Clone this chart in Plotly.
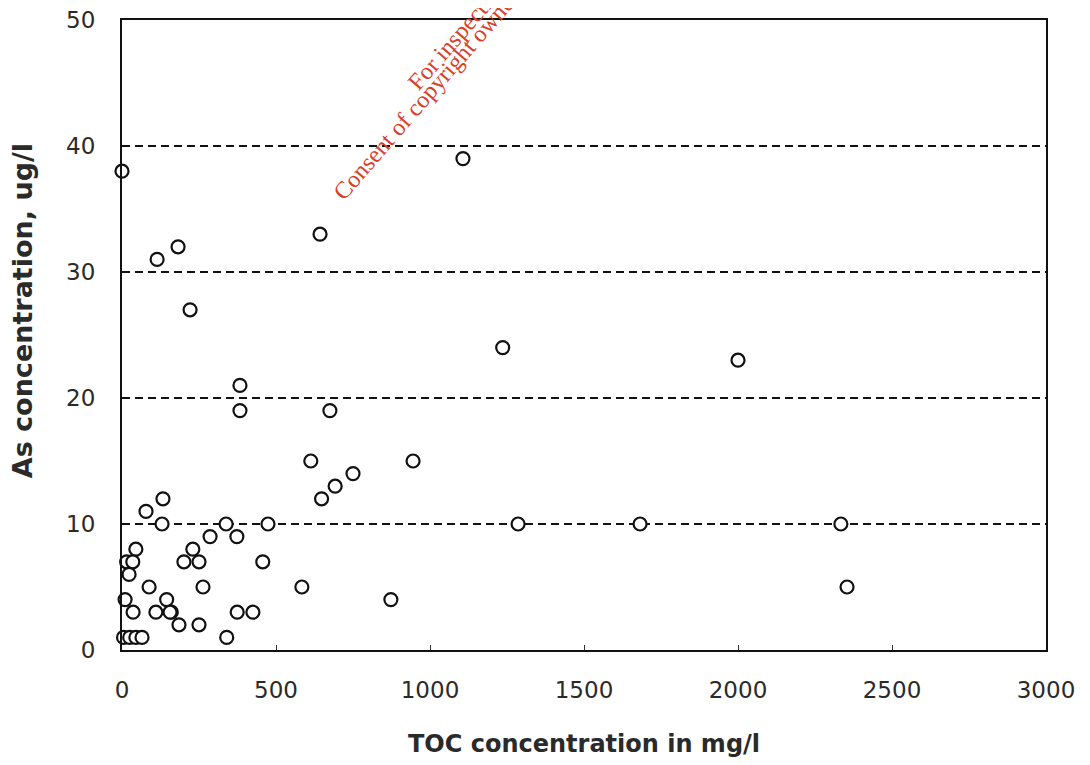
import plotly.graph_objects as go

# TOC concentration (mg/l) and As concentration (ug/l)
toc_mg_l = [0, 1107, 643, 182, 114, 221, 1236, 2000, 383, 383,
            675, 613, 945, 750, 692, 648, 133, 78, 130, 338,
            474, 1286, 1682, 2334, 2354, 286, 373, 230, 45, 201,
            250, 457, 15, 35, 23, 88, 263, 584, 873, 10,
            145, 160, 36, 110, 156, 374, 425, 185, 250, 340,
            5, 25, 45, 65]
as_ug_l = [38, 39, 33, 32, 31, 27, 24, 23, 21, 19,
           19, 15, 15, 14, 13, 12, 12, 11, 10, 10,
           10, 10, 10, 10, 5, 9, 9, 8, 8, 7,
           7, 7, 7, 7, 6, 5, 5, 5, 4, 4,
           4, 3, 3, 3, 3, 3, 3, 2, 2, 1,
           1, 1, 1, 1]

x_ticks = [0, 500, 1000, 1500, 2000, 2500, 3000]
y_ticks = [0, 10, 20, 30, 40, 50]
x_title = "TOC concentration in mg/l"
y_title = "As concentration, ug/l"
watermark_lines = ["For inspection purposes only.",
                   "Consent of copyright owner required for any other use."]

fig = go.Figure()
fig.add_trace(go.Scatter(
    x=toc_mg_l, y=as_ug_l, mode="markers",
    marker=dict(symbol="circle", size=13, color="white",
                line=dict(color="#111111", width=2.2)),
    showlegend=False, cliponaxis=False,
))

sans = "DejaVu Sans, Liberation Sans, Arial, sans-serif"
xtick_font = dict(family=sans, size=23, color="#2a2a2a")
ytick_font = dict(family=sans, size=23, color="#2a2a2a")
title_font = dict(family=sans, size=24, color="#2a2a2a")
wm_font = dict(family="Liberation Serif, Times New Roman, serif", size=24, color="#d9402a")

fig.update_layout(
    width=1082, height=757,
    margin=dict(l=114, r=44, t=12, b=115),
    paper_bgcolor="white", plot_bgcolor="white",
    xaxis=dict(
        range=[0, 3000], tickvals=x_ticks, ticktext=[str(v) for v in x_ticks],
        showgrid=False, zeroline=False, automargin=False,
        showline=True, mirror=True, linecolor="#111111", linewidth=2,
        ticks="inside", ticklen=5, tickcolor="#333333",
        tickfont=xtick_font, ticklabelstandoff=18, ticklabeloverflow="allow",
        title=dict(text="<b>" + x_title + "</b>", font=title_font, standoff=34),
    ),
    yaxis=dict(
        range=[0, 50], tickvals=y_ticks, ticktext=[str(v) for v in y_ticks],
        showgrid=True, gridcolor="#111111", gridwidth=2, griddash="8px,5px",
        zeroline=False, automargin=False,
        showline=True, mirror=True, linecolor="#111111", linewidth=2,
        ticks="", tickfont=ytick_font, ticklabelstandoff=20, ticklabeloverflow="allow",
    ),
    annotations=[
        dict(text="<b>" + y_title + "</b>", xref="paper", yref="paper",
             x=-0.108, y=0.538, xanchor="center", yanchor="middle",
             textangle=-90, showarrow=False, font=dict(family=sans, size=27, color="#2a2a2a")),
        dict(text=watermark_lines[0], xref="paper", yref="paper",
             x=0.4145, y=1.0635, xanchor="center", yanchor="middle",
             textangle=-49, showarrow=False, font=wm_font),
        dict(text=watermark_lines[1], xref="paper", yref="paper",
             x=0.421, y=1.0366, xanchor="center", yanchor="middle",
             textangle=-49, showarrow=False, font=wm_font),
    ],
)

fig.write_html("out.html")
